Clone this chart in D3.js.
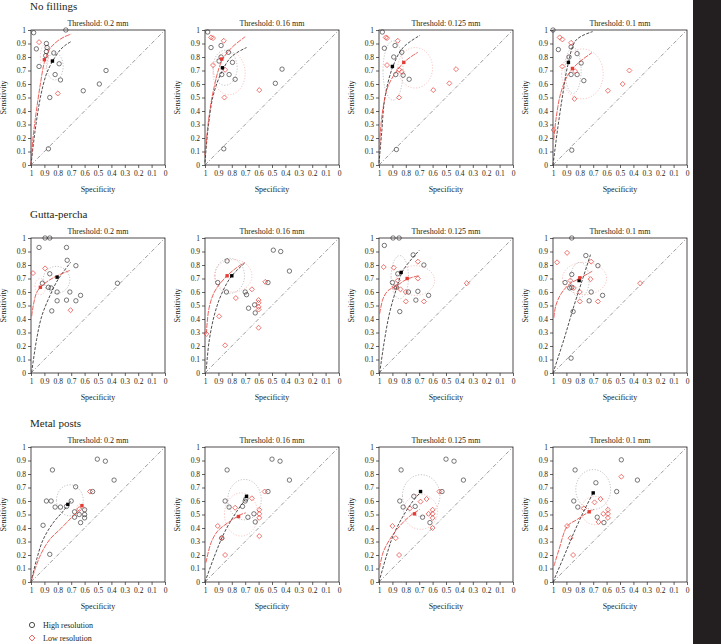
<!DOCTYPE html>
<html><head><meta charset="utf-8">
<script src="https://cdn.jsdelivr.net/npm/d3@7"></script>
<style>body{margin:0;background:#fff}svg{display:block}text{font-family:"Liberation Serif","DejaVu Serif",serif;fill:#231f20}</style>
</head><body><svg id="c" width="721" height="644"></svg>
<script>
const groups = ["No fillings", "Gutta-percha", "Metal posts"];
const thresholds = ["Threshold: 0.2 mm", "Threshold: 0.16 mm", "Threshold: 0.125 mm", "Threshold: 0.1 mm"];
const tickValues = [1, 0.9, 0.8, 0.7, 0.6, 0.5, 0.4, 0.3, 0.2, 0.1, 0];
const legendLabels = ["High resolution", "Low resolution"];

// [specificity, sensitivity] per panel, row-major (group x threshold)
const highPoints = [
 [[0.74,1.0],[0.98,0.98],[0.96,0.86],[0.885,0.9],[0.88,0.87],[0.885,0.84],[0.89,0.81],[0.94,0.73],[0.83,0.83],[0.79,0.75],[0.78,0.63],[0.82,0.67],[0.86,0.5],[0.61,0.55],[0.49,0.60],[0.44,0.70],[0.87,0.12]],
 [[0.98,0.985],[0.955,0.87],[0.88,0.885],[0.825,0.835],[0.88,0.80],[0.895,0.77],[0.795,0.76],[0.875,0.67],[0.82,0.67],[0.775,0.635],[0.475,0.605],[0.425,0.71],[0.86,0.12]],
 [[0.975,0.985],[0.96,0.865],[0.88,0.885],[0.83,0.835],[0.89,0.80],[0.875,0.67],[0.82,0.665],[0.775,0.635],[0.87,0.115]],
 [[1.0,1.0],[0.96,0.855],[0.865,0.875],[0.82,0.825],[0.88,0.80],[0.79,0.755],[0.865,0.67],[0.82,0.67],[0.77,0.625],[0.86,0.11]],
 [[0.895,1.0],[0.86,1.0],[0.94,0.93],[0.735,0.93],[0.73,0.835],[0.665,0.795],[0.86,0.735],[0.915,0.665],[0.87,0.635],[0.85,0.63],[0.805,0.60],[0.71,0.60],[0.63,0.575],[0.805,0.535],[0.735,0.54],[0.665,0.535],[0.845,0.46],[0.355,0.665]],
 [[0.835,0.83],[0.49,0.91],[0.435,0.90],[0.37,0.755],[0.53,0.67],[0.905,0.67],[0.84,0.60],[0.70,0.60],[0.69,0.58],[0.675,0.48],[0.63,0.505],[0.625,0.445]],
 [[0.895,1.0],[0.85,1.0],[0.96,0.945],[0.745,0.875],[0.665,0.80],[0.86,0.735],[0.90,0.67],[0.87,0.635],[0.78,0.60],[0.71,0.605],[0.63,0.575],[0.725,0.54],[0.845,0.455]],
 [[0.86,1.0],[0.755,0.87],[0.665,0.795],[0.86,0.73],[0.91,0.67],[0.86,0.635],[0.875,0.63],[0.715,0.60],[0.63,0.575],[0.73,0.535],[0.85,0.455],[0.865,0.11]],
 [[0.505,0.91],[0.445,0.895],[0.84,0.83],[0.38,0.755],[0.667,0.705],[0.54,0.67],[0.885,0.60],[0.85,0.60],[0.70,0.60],[0.82,0.555],[0.78,0.555],[0.735,0.56],[0.675,0.52],[0.675,0.48],[0.64,0.50],[0.60,0.535],[0.60,0.50],[0.60,0.475],[0.63,0.44],[0.91,0.42],[0.86,0.205]],
 [[0.50,0.91],[0.44,0.895],[0.835,0.83],[0.37,0.755],[0.53,0.67],[0.85,0.60],[0.82,0.555],[0.70,0.60],[0.695,0.615],[0.72,0.56],[0.68,0.48],[0.635,0.505],[0.625,0.445],[0.875,0.325]],
 [[0.50,0.91],[0.44,0.895],[0.835,0.83],[0.37,0.755],[0.53,0.67],[0.74,0.635],[0.845,0.60],[0.82,0.555],[0.73,0.56],[0.675,0.48],[0.62,0.44]],
 [[0.49,0.905],[0.835,0.83],[0.37,0.755],[0.68,0.735],[0.525,0.67],[0.845,0.60],[0.815,0.555],[0.67,0.48],[0.62,0.44]]
];
const lowPoints = [
 [[0.94,0.91],[0.80,0.53]],
 [[0.955,0.945],[0.94,0.94],[0.86,0.92],[0.94,0.74],[0.85,0.705],[0.855,0.50],[0.595,0.555]],
 [[0.95,0.945],[0.94,0.94],[0.86,0.92],[0.94,0.74],[0.85,0.705],[0.83,0.69],[0.85,0.50],[0.595,0.555],[0.475,0.605],[0.425,0.71]],
 [[0.95,0.945],[0.93,0.93],[0.865,0.905],[0.93,0.73],[0.835,0.695],[0.84,0.49],[0.59,0.55],[0.48,0.6],[0.43,0.7],[0.995,0.26]],
 [[0.985,0.74],[0.895,0.775],[0.705,0.465]],
 [[0.55,0.675],[0.65,0.62],[0.77,0.555],[0.6,0.54],[0.6,0.52],[0.6,0.49],[0.6,0.47],[0.895,0.42],[0.6,0.335],[0.85,0.205],[0.99,0.29]],
 [[0.71,0.825],[0.965,0.785],[0.89,0.78],[0.71,0.70],[0.86,0.685],[0.885,0.635],[0.84,0.62],[0.80,0.60],[0.80,0.53],[0.665,0.53],[0.345,0.665]],
 [[0.895,0.89],[0.97,0.82],[0.715,0.825],[0.72,0.695],[0.87,0.685],[0.845,0.63],[0.80,0.60],[0.80,0.53],[0.665,0.53],[0.35,0.665]],
 [[0.56,0.67],[0.64,0.54]],
 [[0.555,0.67],[0.775,0.55],[0.65,0.62],[0.595,0.535],[0.595,0.505],[0.595,0.475],[0.905,0.415],[0.875,0.325],[0.595,0.34],[0.85,0.20]],
 [[0.55,0.67],[0.77,0.545],[0.69,0.595],[0.645,0.615],[0.63,0.505],[0.6,0.535],[0.6,0.505],[0.6,0.475],[0.6,0.40],[0.90,0.415],[0.875,0.325],[0.85,0.20]],
 [[0.49,0.78],[0.77,0.545],[0.69,0.59],[0.645,0.615],[0.66,0.445],[0.625,0.505],[0.59,0.535],[0.59,0.505],[0.59,0.475],[0.895,0.415],[0.87,0.325],[0.85,0.20]]
];
const highCurve = [
 [[1,0],[0.97,0.25],[0.93,0.5],[0.89,0.66],[0.86,0.73],[0.82,0.8],[0.78,0.855],[0.74,0.89],[0.7,0.915]],
 [[1,0.02],[0.975,0.29],[0.9375,0.52],[0.875,0.69],[0.8,0.805],[0.69,0.87]],
 [[1,0.015],[0.98,0.24],[0.957,0.49],[0.9,0.72],[0.82,0.87],[0.695,0.96]],
 [[1,0],[0.963,0.284],[0.926,0.53],[0.889,0.74],[0.827,0.926],[0.704,0.988]],
 [[0.995,0.005],[0.958,0.25],[0.92,0.42],[0.86,0.57],[0.80,0.69],[0.704,0.82]],
 [[0.99,0.03],[0.97,0.23],[0.93,0.43],[0.88,0.577],[0.805,0.714],[0.705,0.813]],
 [[0.995,0],[0.958,0.25],[0.92,0.45],[0.87,0.624],[0.82,0.76],[0.70,0.908]],
 [[1,0],[0.918,0.25],[0.844,0.496],[0.78,0.693],[0.72,0.877]],
 [[1,0],[0.958,0.167],[0.909,0.315],[0.835,0.438],[0.76,0.525],[0.704,0.60]],
 [[1,0],[0.93,0.19],[0.856,0.365],[0.77,0.512],[0.70,0.61]],
 [[1,0],[0.945,0.192],[0.896,0.34],[0.82,0.488],[0.746,0.60],[0.69,0.665]],
 [[1,0],[0.918,0.19],[0.844,0.365],[0.77,0.525],[0.70,0.66]]
];
const lowCurve = [
 [[1,0],[0.985,0.2],[0.96,0.4],[0.93,0.6],[0.9,0.76],[0.86,0.86],[0.8,0.92],[0.75,0.95],[0.7,0.97]],
 [[1,0.07],[0.975,0.32],[0.94,0.54],[0.875,0.77],[0.8,0.87],[0.7,0.95]],
 [[0.995,0.115],[0.99,0.24],[0.97,0.42],[0.93,0.59],[0.82,0.755],[0.71,0.835]],
 [[0.995,0.185],[0.975,0.358],[0.943,0.53],[0.889,0.667],[0.815,0.753],[0.709,0.832]],
 [[0.995,0.42],[0.983,0.50],[0.958,0.595],[0.92,0.645],[0.835,0.705],[0.71,0.76]],
 [[0.99,0.29],[0.97,0.48],[0.93,0.60],[0.855,0.70],[0.77,0.776],[0.705,0.818]],
 [[0.995,0.44],[0.97,0.55],[0.933,0.61],[0.87,0.644],[0.796,0.693],[0.697,0.723]],
 [[0.993,0.41],[0.98,0.496],[0.943,0.582],[0.88,0.656],[0.794,0.705],[0.707,0.754]],
 [[1,0],[0.933,0.192],[0.86,0.315],[0.773,0.40],[0.70,0.475],[0.637,0.537]],
 [[0.993,0.143],[0.955,0.29],[0.906,0.377],[0.83,0.438],[0.732,0.5],[0.695,0.512]],
 [[0.995,0.106],[0.97,0.217],[0.92,0.315],[0.846,0.414],[0.77,0.488],[0.697,0.537]],
 [[0.993,0.118],[0.955,0.241],[0.893,0.414],[0.82,0.463],[0.745,0.512],[0.695,0.537]]
];
const highSummary = [[0.84,0.77],[0.87,0.72],[0.90,0.73],[0.885,0.76],[0.805,0.71],[0.80,0.72],[0.835,0.745],[0.805,0.685],[0.725,0.575],[0.69,0.635],[0.69,0.67],[0.70,0.66]];
const lowSummary = [[0.90,0.78],[0.875,0.785],[0.815,0.76],[0.855,0.715],[0.93,0.635],[0.835,0.72],[0.79,0.70],[0.80,0.705],[0.62,0.565],[0.75,0.485],[0.735,0.505],[0.73,0.52]];
// confidence regions: [centre spec, centre sens, half-width spec, half-height sens]
const highRegion = [[0.822,0.73,0.062,0.10],[0.85,0.72,0.09,0.13],[0.895,0.70,0.075,0.22],[0.85,0.70,0.06,0.17],[0.81,0.69,0.10,0.10],[0.815,0.72,0.11,0.13],[0.845,0.71,0.065,0.16],[0.80,0.69,0.07,0.13],[0.71,0.605,0.10,0.115],[0.705,0.61,0.125,0.15],[0.685,0.64,0.14,0.155],[0.70,0.685,0.13,0.148]];
const lowRegion = [[0.90,0.80,0.03,0.09],[0.82,0.68,0.12,0.16],[0.73,0.72,0.13,0.15],[0.78,0.675,0.155,0.185],[0.93,0.64,0.04,0.06],[0.79,0.72,0.14,0.12],[0.73,0.685,0.145,0.11],[0.765,0.70,0.165,0.12],[0.63,0.54,0.03,0.04],[0.73,0.50,0.125,0.16],[0.69,0.52,0.127,0.13],[0.69,0.53,0.10,0.105]];

const colX = [31, 205, 379, 553], rowY = [30, 238, 447], W = 134, H = 135;
const RED = "#e63b35", INK = "#231f20";
const svg = d3.select("#c");
svg.append("rect").attr("x", 693).attr("y", 0).attr("width", 28).attr("height", 644).attr("fill", INK);

groups.forEach((g, r) => {
  svg.append("text").attr("x", 30).attr("y", rowY[r] - 20).attr("font-size", 11).text(g);
});

const diamond = d3.symbol().type(d3.symbolDiamond2).size(16);

for (let r = 0; r < 3; r++) for (let c = 0; c < 4; c++) {
  const i = r * 4 + c;
  const x = d3.scaleLinear().domain([1, 0]).range([0, W]);
  const y = d3.scaleLinear().domain([0, 1]).range([H, 0]);
  const p = svg.append("g").attr("transform", `translate(${colX[c]},${rowY[r]})`);
  const line = d3.line().x(d => x(d[0])).y(d => y(d[1]));
  const smooth = d3.line().x(d => x(d[0])).y(d => y(d[1])).curve(d3.curveCatmullRom);

  p.append("text").attr("x", W / 2).attr("y", -4).attr("text-anchor", "middle").attr("font-size", 8).text(thresholds[c]);

  const xa = p.append("g").attr("transform", `translate(0,${H})`)
    .call(d3.axisBottom(x).tickValues(tickValues).tickSize(3).tickPadding(3).tickFormat(d => String(d)));
  const ya = p.append("g").call(d3.axisLeft(y).tickValues(tickValues).tickSize(3).tickPadding(2).tickFormat(d => String(d)));
  [xa, ya].forEach(a => {
    a.select(".domain").remove();
    a.selectAll("line").attr("stroke", INK).attr("stroke-width", 0.7);
    a.selectAll("text").attr("font-size", 7.5).attr("font-family", "Liberation Serif, serif").attr("fill", INK);
  });
  p.append("rect").attr("width", W).attr("height", H).attr("fill", "none").attr("stroke", INK).attr("stroke-width", 0.8);

  p.append("text").attr("x", W / 2).attr("y", H + 27).attr("text-anchor", "middle").attr("font-size", 8).text("Specificity");
  p.append("text").attr("transform", `translate(${-25},${H / 2}) rotate(-90)`).attr("text-anchor", "middle").attr("font-size", 8).text("Sensitivity");

  p.append("path").attr("d", line([[1, 0], [0, 1]])).attr("fill", "none").attr("stroke", "#555").attr("stroke-width", 0.6).attr("stroke-dasharray", "4,2,1,2");

  const ell = e => {
    const pts = d3.range(0, 61).map(k => { const t = k / 60 * 2 * Math.PI; return [e[0] + e[2] * Math.cos(t), e[1] + e[3] * Math.sin(t)]; });
    return line(pts);
  };
  p.append("path").attr("d", ell(highRegion[i])).attr("fill", "none").attr("stroke", "#9a9a9a").attr("stroke-width", 0.6).attr("stroke-dasharray", "1.2,1.6");
  p.append("path").attr("d", ell(lowRegion[i])).attr("fill", "none").attr("stroke", "#f2a3a0").attr("stroke-width", 0.6).attr("stroke-dasharray", "1.2,1.6");

  p.selectAll(".hp").data(highPoints[i]).join("circle").attr("cx", d => x(d[0])).attr("cy", d => y(d[1])).attr("r", 2.2)
    .attr("fill", "none").attr("stroke", INK).attr("stroke-width", 0.6);
  p.selectAll(".lp").data(lowPoints[i]).join("path").attr("d", diamond).attr("transform", d => `translate(${x(d[0])},${y(d[1])})`)
    .attr("fill", "none").attr("stroke", RED).attr("stroke-width", 0.7);

  p.append("path").attr("d", smooth(highCurve[i])).attr("fill", "none").attr("stroke", INK).attr("stroke-width", 0.8).attr("stroke-dasharray", "3,1.5");
  p.append("path").attr("d", smooth(lowCurve[i])).attr("fill", "none").attr("stroke", RED).attr("stroke-width", 0.8).attr("stroke-dasharray", "5,1");

  p.append("rect").attr("x", x(highSummary[i][0]) - 1.7).attr("y", y(highSummary[i][1]) - 1.7).attr("width", 3.4).attr("height", 3.4).attr("fill", "#000");
  p.append("rect").attr("x", x(lowSummary[i][0]) - 1.7).attr("y", y(lowSummary[i][1]) - 1.7).attr("width", 3.4).attr("height", 3.4).attr("fill", RED);
}

const lg = svg.append("g");
lg.append("circle").attr("cx", 32).attr("cy", 625).attr("r", 2.6).attr("fill", "none").attr("stroke", INK).attr("stroke-width", 0.8);
lg.append("path").attr("d", d3.symbol().type(d3.symbolDiamond2).size(22)).attr("transform", "translate(32,638)").attr("fill", "none").attr("stroke", RED).attr("stroke-width", 0.8);
legendLabels.forEach((t, k) => lg.append("text").attr("x", 43).attr("y", 628 + k * 13).attr("font-size", 8).text(t));
</script></body></html>
